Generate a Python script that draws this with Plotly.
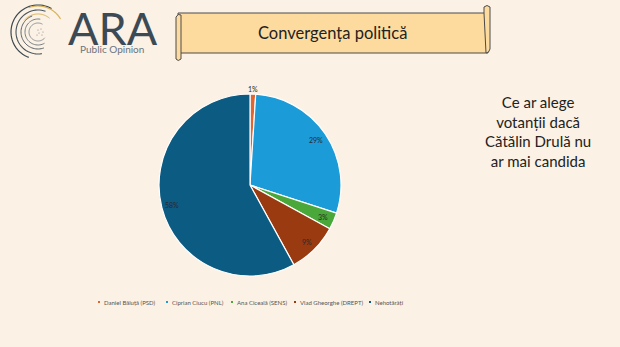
import numpy as np
import plotly.graph_objects as go

# Survey answers
candidates = ["Daniel Băluță (PSD)", "Ciprian Ciucu (PNL)", "Ana Ciceală (SENS)",
              "Vlad Gheorghe (DREPT)", "Nehotărâți"]
shares = [1, 29, 3, 9, 58]
slice_colors = ["#E0652E", "#1B9BD7", "#4AA73A", "#9A3A10", "#0C5B82"]

title_text = "Convergența politică"
question_lines = ["Ce ar alege", "votanții dacă", "Cătălin Drulă nu", "ar mai candida"]

W, H = 620, 347
BG = "#FBF1E4"

# Pie placement in pixels
cx, cy, R = 250, 185, 91

def px(x):
    return x / W

def py(y):
    return 1 - y / H

def label(x, y, text, size, color, xanchor="center", family="Lato", **kw):
    return dict(x=px(x), y=py(y), xref="paper", yref="paper", text=text, showarrow=False,
                xanchor=xanchor, yanchor="middle",
                font=dict(family=family, size=size, color=color), **kw)

fig = go.Figure()
fig.add_trace(go.Pie(
    labels=candidates, values=shares, sort=False, direction="clockwise", rotation=0,
    marker=dict(colors=slice_colors, line=dict(color="white", width=1.2)),
    textinfo="none", hoverinfo="label+percent", showlegend=False,
    domain=dict(x=[px(cx - R), px(cx + R)], y=[py(cy + R), py(cy - R)]),
))

annotations = []
shapes = []

# Percentage labels placed along each slice's mid angle
total = float(sum(shares))
cum = np.cumsum([0] + shares)
for i, v in enumerate(shares):
    mid = (cum[i] + v / 2) / total * 2 * np.pi  # clockwise from 12 o'clock
    r = R + 5 if v < 2 else R * 0.88
    lx = cx + r * np.sin(mid)
    ly = cy - r * np.cos(mid)
    annotations.append(label(lx, ly, f"{v}%", 7, "#2a2a2a"))

# Legend row
legend_x = [99, 167, 232, 295, 370]
for name, col, lx in zip(candidates, slice_colors, legend_x):
    shapes.append(dict(type="rect", xref="paper", yref="paper",
                       x0=px(lx - 1), x1=px(lx + 1), y0=py(303), y1=py(301),
                       fillcolor=col, line=dict(width=0)))
    annotations.append(label(lx + 3, 302, name, 6, "#555555", xanchor="left"))

# Scroll banner behind the title
line_col = "#4a4a4a"
fill_col = "#FDDB9E"
shapes += [
    dict(type="rect", xref="paper", yref="paper", x0=px(178), x1=px(488), y0=py(53), y1=py(13),
         fillcolor=fill_col, line=dict(color=line_col, width=1)),
    # right curl
    dict(type="path", xref="paper", yref="paper",
         path=f"M {px(484)},{py(13)} L {px(484)},{py(7)} Q {px(487)},{py(4)} {px(490)},{py(7)} L {px(490)},{py(49)} Q {px(489)},{py(53)} {px(486)},{py(53)} Z",
         fillcolor=fill_col, line=dict(color=line_col, width=1)),
    # left curl
    dict(type="path", xref="paper", yref="paper",
         path=f"M {px(176)},{py(17)} Q {px(178)},{py(13)} {px(181)},{py(15)} L {px(181)},{py(59)} Q {px(178)},{py(62)} {px(176)},{py(59)} Z",
         fillcolor=fill_col, line=dict(color=line_col, width=1)),
]
annotations.append(label(332, 33, title_text, 16.5, "#222222"))

# Question text on the right
annotations.append(label(538, 131, "<br>".join(question_lines), 15, "#222222", align="center"))

# Logo: concentric arcs
lcx, lcy = 38, 32

def arc(r, a0, a1, n=40):
    ang = np.linspace(np.radians(a0), np.radians(a1), n)
    pts = [(px(lcx + r * np.cos(a)), py(lcy - r * np.sin(a))) for a in ang]
    return "M " + " L ".join(f"{x:.5f},{y:.5f}" for x, y in pts)

for r, a0, a1, col, w in [(27, 60, 250, "#3d4850", 1.2), (26, 30, 110, "#D9B25A", 1.2),
                          (22, 70, 280, "#4a545c", 1.1), (18, 50, 140, "#D9B25A", 1.0),
                          (17, 110, 290, "#5a636a", 1.0), (13, 80, 300, "#6a7278", 0.9),
                          (9, 60, 320, "#7a8288", 0.8)]:
    shapes.append(dict(type="path", xref="paper", yref="paper", path=arc(r, a0, a1),
                       line=dict(color=col, width=w)))
for dx, dy in [(-2, -2), (1, -3), (3, 0), (-1, 1), (2, 3), (-3, 3)]:
    shapes.append(dict(type="circle", xref="paper", yref="paper",
                       x0=px(lcx + 2 + dx - 0.6), x1=px(lcx + 2 + dx + 0.6),
                       y0=py(lcy + dy + 0.6), y1=py(lcy + dy - 0.6),
                       fillcolor="#8a8a8a", line=dict(width=0)))

annotations.append(label(113, 28, "ARA", 45, "#3c4a55"))
annotations.append(label(112, 49, "Public Opinion", 10, "#6b757d"))

fig.update_layout(
    width=W, height=H, margin=dict(l=0, r=0, t=0, b=0),
    paper_bgcolor=BG, plot_bgcolor=BG,
    shapes=shapes, annotations=annotations,
)

fig.write_html("out.html")
